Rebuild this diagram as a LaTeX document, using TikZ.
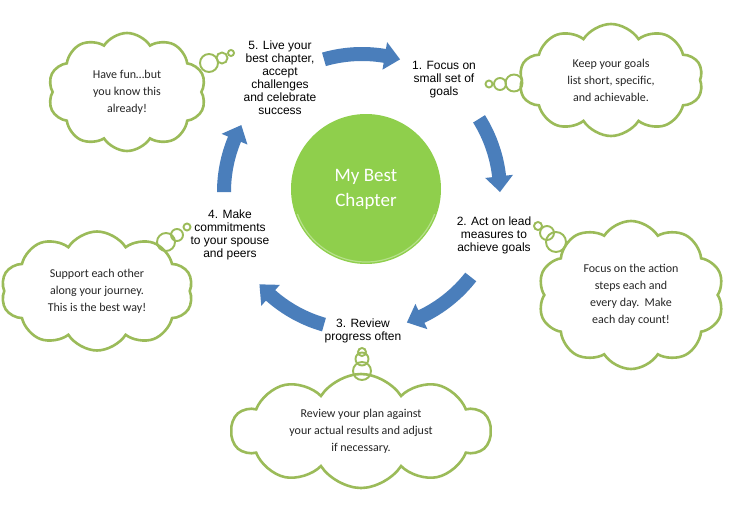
\documentclass[tikz,border=0pt]{standalone}
\usepackage{fontspec}
\setmainfont{Liberation Sans}
\newfontfamily\calib{Carlito}
\usetikzlibrary{shapes.symbols}
\definecolor{arrowblue}{HTML}{4A7EBB}
\definecolor{cloudgreen}{HTML}{9BBB59}
\definecolor{hubgreen}{HTML}{8FCF4C}
\newcommand\curvedarrow[2]{%
  \pgfmathsetmacro\hA{#2+6.5}%
  \fill[arrowblue] (#1:145pt) arc[start angle=#1, end angle=\hA, radius=145pt]
    -- (\hA:152pt) -- (#2:138pt) -- (\hA:124pt) -- (\hA:131pt)
    arc[start angle=\hA, end angle=#1, radius=131pt] -- cycle;}
\begin{document}
\begin{tikzpicture}[x=1pt,y=1pt,
  cloudbox/.style={cloud, cloud puffs=10, cloud puff arc=115, cloud ignores aspect, draw=cloudgreen, line width=2.6pt, fill=white, inner sep=0pt, align=center, font=\calib\fontsize{12}{17}\selectfont, text=black!85},
  bubble/.style={circle, draw=cloudgreen, line width=1.9pt, inner sep=0pt},
  steplabel/.style={align=center, font=\fontsize{12}{13}\selectfont, inner sep=0pt},
]
\useasboundingbox[fill=white] (0,0) rectangle (732,-520);

% hub
\node[circle, fill=hubgreen, minimum size=150pt, inner sep=0pt,
  text=white, font=\calib\fontsize{19}{25}\selectfont, align=center] (hub) at (366,-189) {My Best\\Chapter};
\draw[white!35!hubgreen, line width=1.2pt] (hub.center) ++(200:73pt) arc[start angle=200, end angle=340, radius=73pt];

% arrows
\begin{scope}[shift={(362,-192)}]
  \curvedarrow{106}{74}
  \curvedarrow{32}{0}
  \curvedarrow{-38}{-71}
  \curvedarrow{-106}{-138}
  \curvedarrow{180}{151}
\end{scope}

% step labels
\node[steplabel] (s5) at (280,-78) {5. Live your\\best chapter,\\accept\\challenges\\and celebrate\\success};
\node[steplabel] (s1) at (444,-80) {1. Focus on\\small set of\\goals};
\node[steplabel] (s2) at (494,-235) {2. Act on lead\\measures to\\achieve goals};
\node[steplabel] (s3) at (363,-331) {3. Review\\progress often};
\node[steplabel] (s4) at (230,-235) {4. Make\\commitments\\to your spouse\\and peers};

% clouds
\node[cloudbox, minimum width=158pt, minimum height=118pt] (c5) at (127,-92) {Have fun\dots but\\you know this\\already!};
\node[cloudbox, minimum width=184pt, minimum height=112pt] (c1) at (611,-80) {Keep your goals\\list short, specific,\\and achievable.};
\node[cloudbox, minimum width=186pt, minimum height=148pt] (c2) at (631,-295) {Focus on the action\\steps each and\\every day.\ \ Make\\each day count!};
\node[cloudbox, minimum width=192pt, minimum height=119pt] (c4) at (97,-291) {Support each other\\along your journey.\\This is the best way!};
\node[cloudbox, minimum width=259pt, minimum height=114pt] (c3) at (361,-431) {Review your plan against\\your actual results and adjust\\if necessary.};

% thought bubbles
\node[bubble, minimum size=18pt] (b5a) at (209,-63) {};
\node[bubble, minimum size=11pt] (b5b) at (222,-58) {};
\node[bubble, minimum size=6pt] (b5c) at (231,-53) {};

\node[bubble, minimum size=17pt] (b1a) at (514,-83) {};
\node[bubble, minimum size=12pt] (b1b) at (500,-84) {};
\node[bubble, minimum size=7pt] (b1c) at (489,-84) {};

\node[bubble, minimum size=20pt] (b2a) at (556,-242) {};
\node[bubble, minimum size=14pt] (b2b) at (547,-233) {};
\node[bubble, minimum size=8pt] (b2c) at (538,-226) {};

\node[bubble, minimum size=18pt] (b4a) at (166,-242) {};
\node[bubble, minimum size=12pt] (b4b) at (177,-235) {};
\node[bubble, minimum size=7pt] (b4c) at (187,-227) {};

\node[bubble, minimum size=18pt] (b3a) at (362,-371) {};
\node[bubble, minimum size=13pt] (b3b) at (362,-359) {};
\node[bubble, minimum size=8pt] (b3c) at (362,-352) {};
\end{tikzpicture}
\end{document}
